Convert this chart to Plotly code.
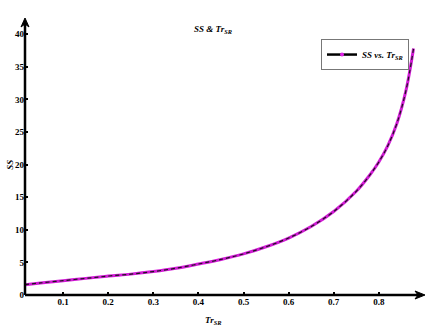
import plotly.graph_objects as go

tr_sr = [0.015, 0.05, 0.1, 0.15, 0.2, 0.25, 0.3, 0.35, 0.4, 0.45, 0.5, 0.55, 0.6,
         0.65, 0.7, 0.75, 0.78, 0.8, 0.82, 0.84, 0.86, 0.877]
ss = [1.58, 1.85, 2.2, 2.55, 2.9, 3.2, 3.6, 4.1, 4.75, 5.45, 6.3, 7.4, 8.74,
      10.5, 12.8, 15.9, 18.4, 20.4, 22.9, 26.3, 31.3, 37.8]
x_ticks = [0.1, 0.2, 0.3, 0.4, 0.5, 0.6, 0.7, 0.8]
y_ticks = [0, 5, 10, 15, 20, 25, 30, 35, 40]

serif = "Liberation Serif, Times New Roman, serif"
PW, PH = 400.0, 277.0  # plot area size in px

def px(dx):
    return dx / PW

def py(dy):
    return dy / PH

fig = go.Figure()
fig.add_trace(go.Scatter(x=tr_sr, y=ss, mode="lines",
                         line=dict(color="#d21ad6", width=3, shape="spline", smoothing=1.0),
                         showlegend=False, hoverinfo="skip"))
fig.add_trace(go.Scatter(x=tr_sr, y=ss, mode="lines",
                         line=dict(color="#1a1a1a", width=1.2, shape="spline", smoothing=1.0, dash="4px,3px"),
                         showlegend=False))
fig.add_trace(go.Scatter(x=[None], y=[None], mode="lines+markers",
                         line=dict(color="black", width=2.5),
                         marker=dict(color="#e020e8", size=4),
                         name="<b><i>SS vs. Tr<sub>SR</sub></i></b>"))

shapes = [
    dict(type="line", xref="paper", yref="paper", x0=0, x1=0, y0=0, y1=1 - py(6),
         line=dict(color="black", width=2.5)),
    dict(type="path", xref="paper", yref="paper", fillcolor="black", line=dict(color="black", width=1),
         path=f"M {px(-4)} {1 - py(9)} L 0 1 L {px(4)} {1 - py(9)} L 0 {1 - py(6)} Z"),
    dict(type="line", xref="paper", yref="paper", x0=0, x1=1 - px(6), y0=0, y1=0,
         line=dict(color="black", width=2.5)),
    dict(type="path", xref="paper", yref="paper", fillcolor="black", line=dict(color="black", width=1),
         path=f"M {1 - px(10)} {py(4)} L 1 0 L {1 - px(10)} {py(-4)} L {1 - px(7)} 0 Z"),
]

fig.update_layout(
    width=426, height=328,
    margin=dict(l=25, r=1, t=18, b=33),
    paper_bgcolor="white", plot_bgcolor="white",
    font=dict(family=serif, color="black", size=9),
    xaxis=dict(range=[0.0155, 0.9024], tickvals=x_ticks, ticktext=[f"<b>{v}</b>" for v in x_ticks],
               ticks="inside", ticklen=3, tickwidth=2, tickcolor="black",
               showgrid=False, zeroline=False, showline=False,
               tickfont=dict(family=serif, size=9)),
    yaxis=dict(range=[0, 42.48], tickvals=y_ticks, ticktext=[f"<b>{v}</b>" for v in y_ticks],
               ticks="inside", ticklen=3, tickwidth=2, tickcolor="black",
               showgrid=False, zeroline=False, showline=False,
               tickfont=dict(family=serif, size=9)),
    legend=dict(x=0.74, y=0.924, xanchor="left", yanchor="top",
                bordercolor="#777", borderwidth=1, bgcolor="white",
                font=dict(family=serif, size=9), itemwidth=30,
                tracegroupgap=0),
    shapes=shapes,
    annotations=[
        dict(x=0.47, y=0.985, xref="paper", yref="paper", showarrow=False,
             text="<b><i>SS &amp; Tr<sub>SR</sub></i></b>", font=dict(family=serif, size=9)),
        dict(x=0.47, y=-0.065, xref="paper", yref="paper", showarrow=False, yanchor="top",
             text="<b><i>Tr<sub>SR</sub></i></b>", font=dict(family=serif, size=9)),
        dict(x=-0.055, y=0.47, xref="paper", yref="paper", showarrow=False, textangle=-90,
             text="<b><i>SS</i></b>", font=dict(family=serif, size=9)),
    ],
)

fig.write_html("out.html")
